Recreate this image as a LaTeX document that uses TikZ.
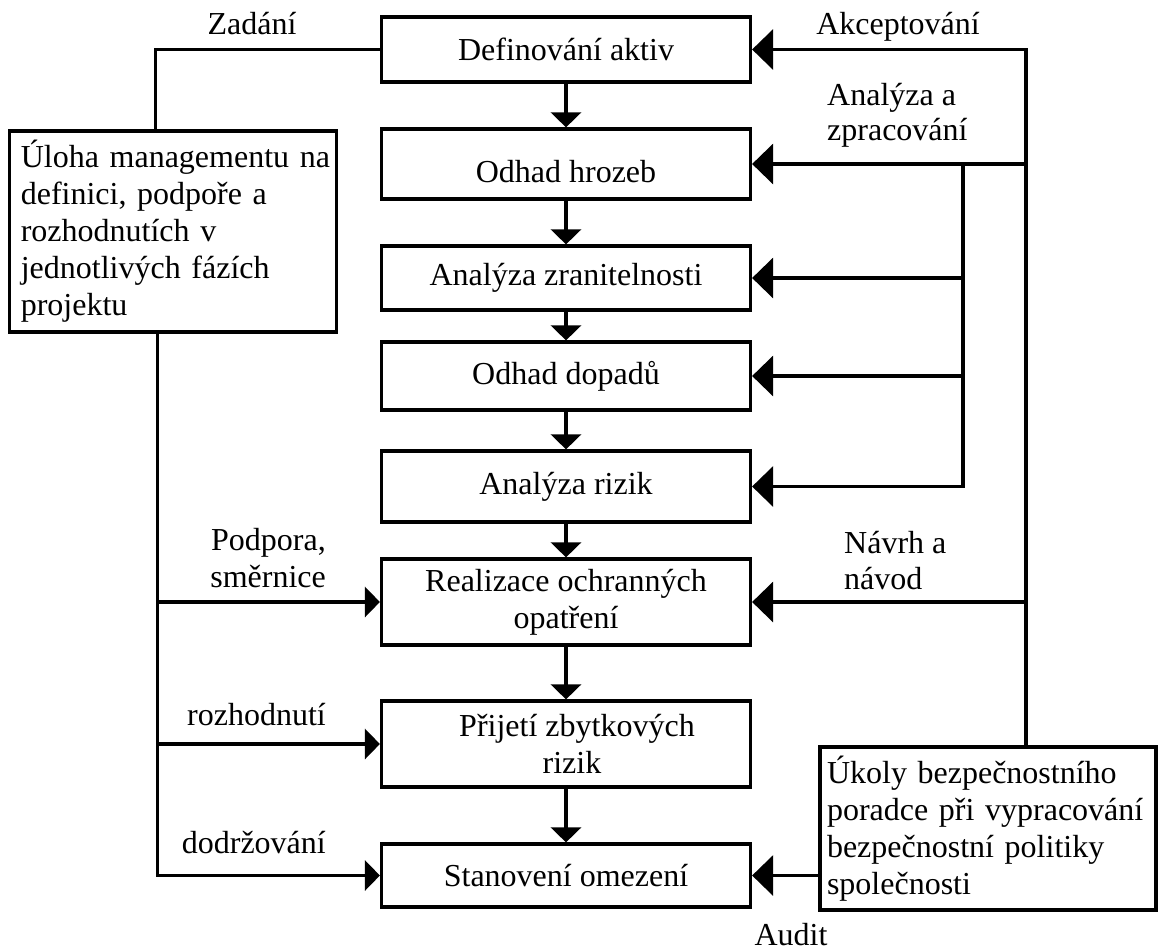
\documentclass[tikz,border=0pt]{standalone}
\usepackage{fontspec}
\setmainfont{Liberation Serif}
\usetikzlibrary{arrows.meta}
\begin{document}
\begin{tikzpicture}[x=1pt,y=-1pt,
  every node/.style={font=\fontsize{32}{37}\selectfont},
  box/.style={draw, line width=3.2pt, minimum width=369pt, inner sep=0pt, align=center},
  sidebox/.style={draw, line width=3.2pt, align=left, inner ysep=0pt},
  conn/.style={line width=3.2pt},
  sarrow/.style={conn, -{Triangle[length=15pt,width=30pt]}},
  barrow/.style={conn, -{Triangle[length=21pt,width=40pt]}},
  lbl/.style={anchor=base, inner sep=0pt},
]
\useasboundingbox (0,0) rectangle (1159,950);

% main column
\node[box, minimum height=65pt] (b1) at (566,49.5) {Definování aktiv};
\node[box, minimum height=70pt, text height=36pt, text depth=0pt] (b2) at (566,164) {Odhad hrozeb};
\node[box, minimum height=64pt] (b3) at (566,278) {Analýza zranitelnosti};
\node[box, minimum height=68pt] (b4) at (566,376) {Odhad dopadů};
\node[box, minimum height=71pt] (b5) at (566,486.5) {Analýza rizik};
\node[box, minimum height=86pt] (b6) at (566,602) {Realizace ochranných\\opatření};
\node[box, minimum height=86pt] (b7) at (566,744) {\hspace*{22pt}Přijetí zbytkových\\\hspace*{12pt}rizik};
\node[box, minimum height=63pt] (b8) at (566,875.5) {Stanovení omezení};

% side boxes
\node[sidebox, text width=305pt, inner xsep=11pt, minimum height=201pt] (mgmt) at (173.3,231.5)
  {\mbox{Úloha managementu na}\\\mbox{definici, podpoře a}\\\mbox{rozhodnutích v}\\\mbox{jednotlivých fázích}\\\mbox{projektu}};
\node[sidebox, text width=322pt, inner xsep=7pt, minimum height=163pt] (sec) at (988,828.5)
  {\mbox{Úkoly bezpečnostního}\\\mbox{poradce při vypracování}\\\mbox{bezpečnostní politiky}\\\mbox{společnosti}};

% vertical flow
\draw[sarrow] (b1) -- (b2);
\draw[sarrow] (b2) -- (b3);
\draw[sarrow] (b3) -- (b4);
\draw[sarrow] (b4) -- (b5);
\draw[sarrow] (b5) -- (b6);
\draw[sarrow] (b6) -- (b7);
\draw[sarrow] (b7) -- (b8);

% left side
\draw[conn] ([xshift=-18pt]mgmt.north) |- (b1.west);
\coordinate (lt) at ([xshift=-16pt]mgmt.south);
\draw[sarrow] (lt) |- (b8.west);
\draw[sarrow] (lt |- b6.west) -- (b6.west);
\draw[sarrow] (lt |- b7.west) -- (b7.west);

% right side
\coordinate (rt) at ([xshift=38pt]sec.north);
\coordinate (ri) at ([xshift=-63pt]rt);
\draw[barrow] (rt) |- (b1.east);
\draw[barrow] (rt |- b2.east) -- (b2.east);
\draw[barrow] (rt |- b6.east) -- (b6.east);
\draw[barrow] (ri |- b2.east) |- (b5.east);
\draw[barrow] (ri |- b3.east) -- (b3.east);
\draw[barrow] (ri |- b4.east) -- (b4.east);
\draw[barrow] (sec.west |- b8.east) -- (b8.east);

% labels
\node[lbl] (zad) at (252,35) {Zadání};
\node[lbl] (akc) at (898,35) {Akceptování};
\node[lbl, anchor=base west] (ana1) at (827,105) {Analýza a};
\node[lbl, anchor=base west] (ana2) at (827,140) {zpracování};
\node[lbl, anchor=base west] (nav1) at (844,553) {Návrh a};
\node[lbl, anchor=base west] (nav2) at (844,589) {návod};
\node[lbl] (aud) at (791,945) {Audit};
\node[lbl, anchor=base east] (pod1) at (326,550) {Podpora,};
\node[lbl, anchor=base east] (pod2) at (326,587) {směrnice};
\node[lbl, anchor=base east] (roz) at (326,725) {rozhodnutí};
\node[lbl, anchor=base east] (dod) at (326,853) {dodržování};
\end{tikzpicture}
\end{document}
